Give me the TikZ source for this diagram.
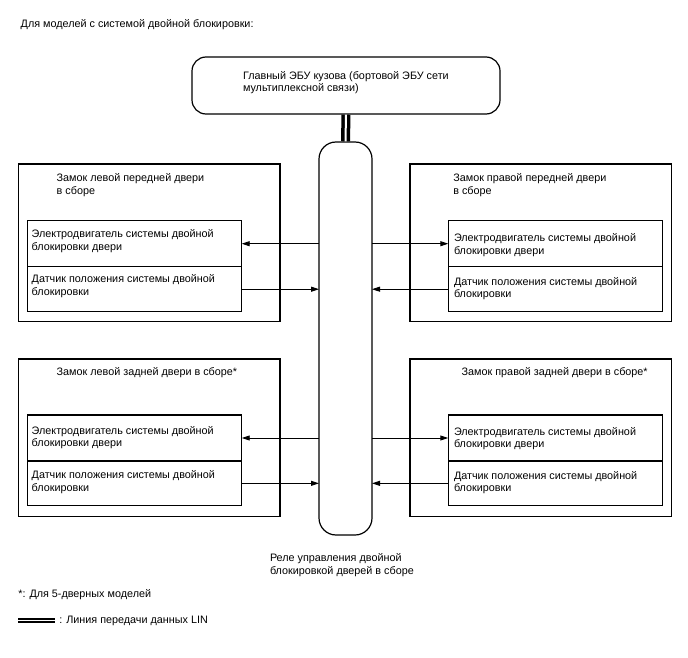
\documentclass[tikz,border=0pt]{standalone}
\usepackage{fontspec}
\setmainfont{Liberation Sans}
\usetikzlibrary{arrows.meta}
\begin{document}
\begin{tikzpicture}[x=1pt,y=-1pt,
  every node/.style={inner sep=0pt, outer sep=0pt},
  txt/.style={anchor=north west, align=left, font=\fontsize{10.8}{12.7}\selectfont},
  outerbox/.style={draw, line width=1.2pt, anchor=north west, minimum width=261.7pt, minimum height=157.7pt},
  partbox/.style={draw, line width=1.2pt, anchor=north west, minimum width=214.4pt},
  arr/.style={line width=0.9pt, -{Triangle[length=8pt,width=5pt]}},
  lin/.style={line width=3.5pt, double=white, double distance=2pt, shorten <=0.7pt, shorten >=0.7pt},
  linlegend/.style={line width=2.1pt, double=white, double distance=0.8pt}]
\useasboundingbox (0,0) rectangle (688,658);

% header
\node[txt] (hdr) at (20.7,19.4) {Для моделей с системой двойной блокировки:};

% main ECU
\node[draw, line width=1.2pt, rounded corners=14pt, anchor=north west, minimum width=308pt, minimum height=57pt] (ecu) at (192,57) {};
\node[txt] (ecut) at (243,71.1) {Главный ЭБУ кузова (бортовой ЭБУ сети\\мультиплексной связи)};

% relay
\node[draw, line width=1.2pt, rounded corners=17pt, anchor=north west, minimum width=53pt, minimum height=393pt] (relay) at (319,142) {};
\node[txt] (relayt) at (270,553.4) {Реле управления двойной\\блокировкой дверей в сборе};

\draw[lin] (ecu.south) -- (relay.north);

% left front
\node[outerbox] (lf) at (18.3,164) {};
\node[txt] (lft) at (56.7,173.4) {Замок левой передней двери\\в сборе};
\node[partbox, minimum height=46pt] (lfm) at (27.3,220.7) {};
\node[partbox, minimum height=45pt] (lfs) at (27.3,266.7) {};
\node[txt] (lfmt) at (31.7,229.4) {Электродвигатель системы двойной\\блокировки двери};
\node[txt] (lfst) at (31.7,274.4) {Датчик положения системы двойной\\блокировки};

% right front
\node[outerbox] (rf) at (410,164) {};
\node[txt] (rft) at (453.3,173.4) {Замок правой передней двери\\в сборе};
\node[partbox, minimum height=46pt] (rfm) at (448.3,220.7) {};
\node[partbox, minimum height=45pt] (rfs) at (448.3,266.7) {};
\node[txt] (rfmt) at (454,233.8) {Электродвигатель системы двойной\\блокировки двери};
\node[txt] (rfst) at (454,277.1) {Датчик положения системы двойной\\блокировки};

% left rear
\node[outerbox] (lr) at (18.3,359) {};
\node[txt] (lrt) at (56.7,367.1) {Замок левой задней двери в сборе*};
\node[partbox, minimum height=46pt] (lrm) at (27.3,415) {};
\node[partbox, minimum height=44.7pt] (lrs) at (27.3,461) {};
\node[txt] (lrmt) at (31.7,426.1) {Электродвигатель системы двойной\\блокировки двери};
\node[txt] (lrst) at (31.7,470.4) {Датчик положения системы двойной\\блокировки};

% right rear
\node[outerbox] (rr) at (410,359) {};
\node[txt] (rrt) at (461.7,367.1) {Замок правой задней двери в сборе*};
\node[partbox, minimum height=46pt] (rrm) at (448.3,415) {};
\node[partbox, minimum height=44.7pt] (rrs) at (448.3,461) {};
\node[txt] (rrmt) at (454,427.1) {Электродвигатель системы двойной\\блокировки двери};
\node[txt] (rrst) at (454,471.1) {Датчик положения системы двойной\\блокировки};

% arrows
\draw[arr] (relay.west |- lfm.east) -- (lfm.east);
\draw[arr] (lfs.east) -- (relay.west |- lfs.east);
\draw[arr] (relay.east |- rfm.west) -- (rfm.west);
\draw[arr] (rfs.west) -- (relay.east |- rfs.west);
\draw[arr] (relay.west |- lrm.east) -- (lrm.east);
\draw[arr] (lrs.east) -- (relay.west |- lrs.east);
\draw[arr] (relay.east |- rrm.west) -- (rrm.west);
\draw[arr] (rrs.west) -- (relay.east |- rrs.west);

% footnotes
\node[txt] (fn) at (18.3,589.1) {*: Для 5-дверных моделей};
\coordinate (lg1) at (18,620);
\coordinate (lg2) at (55,620);
\draw[linlegend] (lg1) -- (lg2);
\node[txt] (lgt) at (59.3,616.1) {: Линия передачи данных LIN};
\end{tikzpicture}
\end{document}
